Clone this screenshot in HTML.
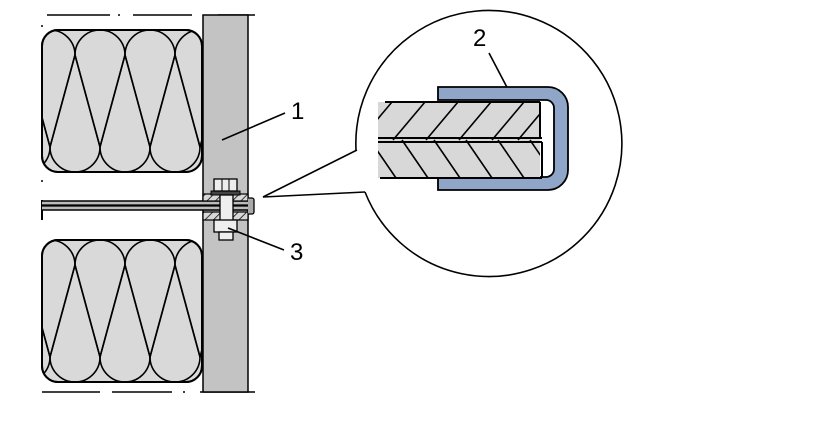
<!DOCTYPE html>
<html><head><style>html,body{margin:0;padding:0;background:#fff}svg{display:block}</style></head><body>
<svg width="824" height="436" viewBox="0 0 824 436" xmlns="http://www.w3.org/2000/svg" font-family="Liberation Sans, sans-serif">
<defs>
<clipPath id="c1"><rect x="42" y="30" width="160" height="142" rx="16"/></clipPath>
<clipPath id="cd"><rect x="378" y="102" width="162" height="76"/></clipPath>
<pattern id="h1" width="6" height="6" patternUnits="userSpaceOnUse" patternTransform="rotate(45)"><rect width="6" height="6" fill="#d8d8d8"/><line x1="0" y1="0" x2="0" y2="6" stroke="#000" stroke-width="1.5"/></pattern>
</defs>
<g stroke="#000" stroke-width="1.5">
<line x1="47" y1="15" x2="110" y2="15"/><line x1="118" y1="15" x2="120" y2="15"/><line x1="133" y1="15" x2="192" y2="15"/><line x1="218" y1="15" x2="255" y2="15"/>
<line x1="42" y1="392" x2="100" y2="392"/><line x1="112" y1="392" x2="172" y2="392"/><line x1="183" y1="392" x2="185" y2="392"/><line x1="200" y1="392" x2="255" y2="392"/>
<line x1="42" y1="25" x2="42" y2="27"/><line x1="42" y1="180" x2="42" y2="182"/>
</g>
<rect x="203" y="15" width="45" height="377" fill="#c3c3c3" stroke="#000" stroke-width="1.5"/>
<g>
<rect x="42" y="30" width="160" height="142" rx="16" fill="#d9d9d9" stroke="#000" stroke-width="2"/>
<g clip-path="url(#c1)" fill="none" stroke="#000" stroke-width="1.6">
<path d="M25,55 A25,25 0 0 1 75,55 L50,147 Z"/><path d="M75,55 A25,25 0 0 1 125,55 L100,147 Z"/><path d="M125,55 A25,25 0 0 1 175,55 L150,147 Z"/><path d="M175,55 A25,25 0 0 1 225,55 L200,147 Z"/>
<path d="M50,147 A25,25 0 0 0 100,147 L75,55 Z"/><path d="M100,147 A25,25 0 0 0 150,147 L125,55 Z"/><path d="M150,147 A25,25 0 0 0 200,147 L175,55 Z"/><path d="M0,147 A25,25 0 0 0 50,147 L25,55 Z"/>
</g>
<rect x="42" y="30" width="160" height="142" rx="16" fill="none" stroke="#000" stroke-width="2"/>
</g>
<g transform="translate(0,210)">
<rect x="42" y="30" width="160" height="142" rx="16" fill="#d9d9d9" stroke="#000" stroke-width="2"/>
<g clip-path="url(#c1)" fill="none" stroke="#000" stroke-width="1.6">
<path d="M25,55 A25,25 0 0 1 75,55 L50,147 Z"/><path d="M75,55 A25,25 0 0 1 125,55 L100,147 Z"/><path d="M125,55 A25,25 0 0 1 175,55 L150,147 Z"/><path d="M175,55 A25,25 0 0 1 225,55 L200,147 Z"/>
<path d="M50,147 A25,25 0 0 0 100,147 L75,55 Z"/><path d="M100,147 A25,25 0 0 0 150,147 L125,55 Z"/><path d="M150,147 A25,25 0 0 0 200,147 L175,55 Z"/><path d="M0,147 A25,25 0 0 0 50,147 L25,55 Z"/>
</g>
<rect x="42" y="30" width="160" height="142" rx="16" fill="none" stroke="#000" stroke-width="2"/>
</g>
<line x1="42" y1="200" x2="42" y2="220" stroke="#000" stroke-width="2"/>
<rect x="42" y="201" width="208" height="9" fill="#bbb"/>
<g stroke="#000"><line x1="42" y1="201" x2="250" y2="201" stroke-width="1.5"/><line x1="42" y1="205.5" x2="250" y2="205.5" stroke-width="2.2"/><line x1="42" y1="210" x2="250" y2="210" stroke-width="1.5"/></g>
<rect x="203" y="194" width="45" height="7" fill="url(#h1)" stroke="#000" stroke-width="1.2"/>
<rect x="203" y="212" width="45" height="8" fill="url(#h1)" stroke="#000" stroke-width="1.2"/>
<path d="M248,198 h4 a2,2 0 0 1 2,2 v12 a2,2 0 0 1 -2,2 h-4" fill="#aaa" stroke="#000" stroke-width="1.3"/>
<rect x="211" y="191" width="29" height="4" fill="#444" stroke="#000"/>
<rect x="214" y="179" width="23" height="12" fill="#eee" stroke="#000" stroke-width="1.3"/>
<line x1="222" y1="179" x2="222" y2="191" stroke="#000"/><line x1="229" y1="179" x2="229" y2="191" stroke="#000"/>
<rect x="220" y="195" width="13" height="26" fill="#eee" stroke="#000" stroke-width="1.3"/>
<rect x="214" y="220" width="23" height="12" fill="#eee" stroke="#000" stroke-width="1.3"/>
<rect x="219" y="232" width="14" height="8" fill="#eee" stroke="#000" stroke-width="1.3"/>
<g stroke="#000" stroke-width="1.6" fill="none">
<line x1="222" y1="140" x2="285" y2="113"/>
<line x1="228" y1="228" x2="284" y2="250"/>
<line x1="263" y1="197" x2="357" y2="150"/>
<line x1="263" y1="197" x2="365" y2="192"/>
<path d="M356,150 A133,133 0 1 1 365,192"/>
<line x1="489" y1="53" x2="510" y2="93"/>
</g>
<text x="291" y="119" font-size="24">1</text>
<text x="290" y="260" font-size="24">3</text>
<text x="473" y="46" font-size="24">2</text>
<path d="M438,87 H548 A20,20 0 0 1 568,107 V170 A20,20 0 0 1 548,190 H438 V177 H546 A8,8 0 0 0 554,169 V108 A8,8 0 0 0 546,100 H438 Z" fill="#8fa6c8" stroke="#000" stroke-width="1.8"/>
<g clip-path="url(#cd)">
<rect x="378" y="102" width="162" height="76" fill="#d8d8d8"/>
<g stroke="#000" stroke-width="1.6">
<line x1="360" y1="140" x2="392" y2="102"/><line x1="393" y1="140" x2="425" y2="102"/><line x1="426" y1="140" x2="458" y2="102"/><line x1="459" y1="140" x2="491" y2="102"/><line x1="492" y1="140" x2="524" y2="102"/><line x1="518" y1="140" x2="550" y2="102"/>
<line x1="370" y1="140" x2="396" y2="178"/><line x1="402" y1="140" x2="428" y2="178"/><line x1="434" y1="140" x2="460" y2="178"/><line x1="466" y1="140" x2="492" y2="178"/><line x1="498" y1="140" x2="524" y2="178"/><line x1="530" y1="140" x2="556" y2="178"/>
</g>
</g>
<g stroke="#000" stroke-width="2" fill="none">
<line x1="385" y1="102" x2="540" y2="102"/><line x1="380" y1="178" x2="542" y2="178"/>
<line x1="378" y1="138" x2="542" y2="138"/><line x1="378" y1="142" x2="542" y2="142"/>
<line x1="540" y1="102" x2="540" y2="138"/><line x1="542" y1="142" x2="542" y2="178"/>
</g>
</svg>
</body></html>
